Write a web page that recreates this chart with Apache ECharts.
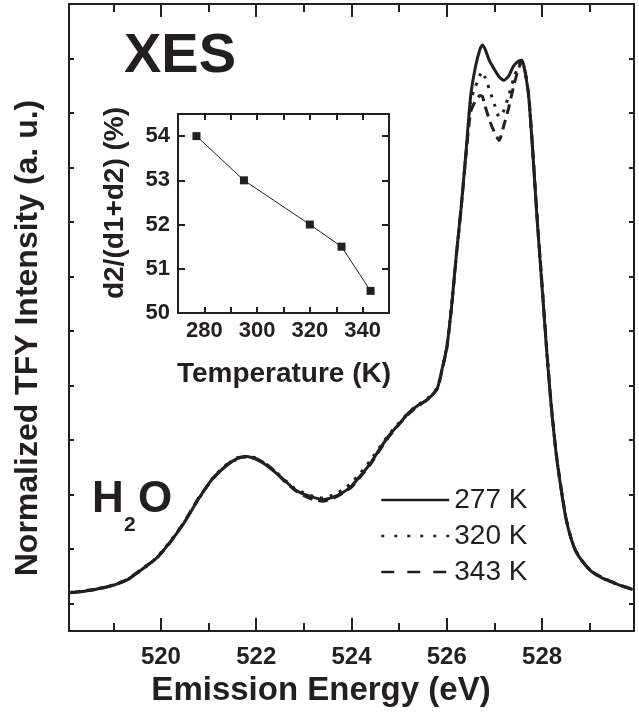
<!DOCTYPE html>
<html>
<head>
<meta charset="utf-8">
<script src="https://cdn.jsdelivr.net/npm/echarts@6/dist/echarts.min.js"></script>
<style>
  html, body { margin: 0; padding: 0; background: #fff; }
  #chart { width: 639px; height: 712px; }
</style>
</head>
<body>
<div id="chart"></div>
<script>
// emission energy grid (eV)
var energies = [518.1, 518.4, 518.7, 519.0, 519.3, 519.6, 519.9, 520.2, 520.5, 520.8,
  521.1, 521.4, 521.6, 521.8, 522.0, 522.2, 522.4, 522.6, 522.8, 523.0,
  523.2, 523.4, 523.6, 523.8, 524.0, 524.2, 524.4, 524.6, 524.8, 525.0,
  525.2, 525.4, 525.6, 525.8, 525.9, 526.0, 526.1, 526.2, 526.3, 526.4,
  526.5, 526.6, 526.7, 526.75, 526.8, 526.9, 527.0, 527.1, 527.2, 527.3,
  527.4, 527.5, 527.58, 527.65, 527.72, 527.8, 527.9, 528.0, 528.1, 528.2,
  528.3, 528.4, 528.5, 528.6, 528.7, 528.8, 529.0, 529.2, 529.4, 529.6, 529.9];

// normalized TFY intensity (a. u.)
var xes277 = [0.70, 0.73, 0.78, 0.84, 0.94, 1.13, 1.33, 1.64, 2.00, 2.44,
  2.81, 3.05, 3.16, 3.20, 3.15, 3.05, 2.91, 2.76, 2.60, 2.51,
  2.45, 2.41, 2.45, 2.53, 2.66, 2.86, 3.08, 3.35, 3.60, 3.80,
  4.00, 4.14, 4.25, 4.45, 4.80, 5.20, 5.95, 6.90, 7.75, 8.75,
  9.80, 10.34, 10.68, 10.75, 10.68, 10.45, 10.30, 10.16, 10.10, 10.18,
  10.36, 10.45, 10.47, 10.22, 9.80, 8.85, 7.50, 6.31, 5.10, 4.05,
  3.22, 2.60, 2.07, 1.72, 1.48, 1.33, 1.12, 1.00, 0.92, 0.85, 0.76];
var xes320 = [0.71, 0.73, 0.78, 0.85, 0.95, 1.12, 1.34, 1.65, 2.01, 2.43,
  2.82, 3.07, 3.15, 3.21, 3.17, 3.06, 2.93, 2.77, 2.62, 2.53,
  2.47, 2.44, 2.49, 2.58, 2.72, 2.91, 3.13, 3.38, 3.62, 3.82,
  4.01, 4.15, 4.27, 4.46, 4.80, 5.22, 5.96, 6.90, 7.76, 8.72,
  9.72, 9.98, 10.20, 10.26, 10.16, 9.92, 9.66, 9.43, 9.55, 9.82,
  10.12, 10.36, 10.46, 10.22, 9.80, 8.86, 7.52, 6.33, 5.12, 4.06,
  3.23, 2.61, 2.08, 1.72, 1.49, 1.33, 1.13, 1.00, 0.92, 0.85, 0.76];
var xes343 = [0.70, 0.74, 0.77, 0.84, 0.95, 1.14, 1.33, 1.63, 2.02, 2.45,
  2.80, 3.06, 3.18, 3.19, 3.16, 3.07, 2.92, 2.74, 2.59, 2.48,
  2.41, 2.38, 2.43, 2.52, 2.64, 2.84, 3.06, 3.33, 3.58, 3.79,
  3.98, 4.13, 4.25, 4.44, 4.78, 5.18, 5.93, 6.88, 7.74, 8.70,
  9.52, 9.72, 9.82, 9.80, 9.64, 9.36, 9.15, 9.00, 9.28, 9.60,
  9.98, 10.30, 10.45, 10.24, 9.82, 8.88, 7.55, 6.36, 5.14, 4.08,
  3.24, 2.62, 2.08, 1.73, 1.48, 1.34, 1.12, 1.01, 0.93, 0.85, 0.77];

// inset: d2/(d1+d2) vs temperature
var temps = [277, 295, 320, 332, 343];
var ratio = [54.0, 53.0, 52.0, 51.5, 50.5];

var ink = '#231f20';
var font = '"Liberation Sans", Arial, Helvetica, sans-serif';

function pairs(xs, ys) {
  var out = [];
  for (var i = 0; i < xs.length; i++) out.push([xs[i], ys[i]]);
  return out;
}

var chart = echarts.init(document.getElementById('chart'));

var line = { color: ink, width: 2 };

var option = {
  animation: false,
  textStyle: { fontFamily: font, color: ink },
  grid: [
    { left: 69, right: 5, top: 4, bottom: 81 },
    { left: 178, right: 250, top: 114, bottom: 399 }
  ],
  xAxis: [
    { type: 'value', gridIndex: 0, position: 'bottom', min: 518.07, max: 529.93, splitNumber: 5,
      axisLine: { onZero: false, lineStyle: line },
      axisTick: { inside: true, length: 13, lineStyle: line },
      minorTick: { show: true, splitNumber: 2, length: 8, lineStyle: line },
      axisLabel: { showMinLabel: false, showMaxLabel: false, margin: 14, fontSize: 24, fontWeight: 'bold', color: ink },
      splitLine: { show: false } },
    { type: 'value', gridIndex: 0, position: 'top', min: 518.07, max: 529.93, splitNumber: 5,
      axisLine: { onZero: false, lineStyle: line },
      axisTick: { inside: true, length: 13, lineStyle: line },
      minorTick: { show: true, splitNumber: 2, length: 8, lineStyle: line },
      axisLabel: { show: false }, splitLine: { show: false } },
    { type: 'value', gridIndex: 1, position: 'bottom', min: 270, max: 350, interval: 10,
      axisLine: { onZero: false, lineStyle: line },
      axisTick: { inside: true, length: 6, lineStyle: line },
      axisLabel: { margin: 7, fontSize: 22, fontWeight: 'bold', color: ink,
        formatter: function (v) { return (v % 20 === 0 && v > 270 && v < 350) ? v : ''; } },
      splitLine: { show: false } },
    { type: 'value', gridIndex: 1, position: 'top', min: 270, max: 350, interval: 10,
      axisLine: { onZero: false, lineStyle: line },
      axisTick: { inside: true, length: 6, lineStyle: line },
      axisLabel: { show: false }, splitLine: { show: false } }
  ],
  yAxis: [
    { type: 'value', gridIndex: 0, position: 'left', min: 0, max: 11.5, interval: 1,
      axisLine: { onZero: false, lineStyle: line },
      axisTick: { show: false, inside: true },
      minorTick: { show: true, splitNumber: 2, length: 5, lineStyle: line },
      axisLabel: { show: false }, splitLine: { show: false } },
    { type: 'value', gridIndex: 0, position: 'right', min: 0, max: 11.5, interval: 1,
      axisLine: { onZero: false, lineStyle: line },
      axisTick: { show: false, inside: true },
      minorTick: { show: true, splitNumber: 2, length: 5, lineStyle: line },
      axisLabel: { show: false }, splitLine: { show: false } },
    { type: 'value', gridIndex: 1, position: 'left', min: 50, max: 54.5, interval: 1,
      axisLine: { onZero: false, lineStyle: line },
      axisTick: { inside: true, length: 7, lineStyle: line },
      axisLabel: { margin: 8, fontSize: 22, fontWeight: 'bold', color: ink,
        formatter: function (v) { return v % 1 === 0 ? v : ''; } },
      splitLine: { show: false } },
    { type: 'value', gridIndex: 1, position: 'right', min: 50, max: 54.5, interval: 1,
      axisLine: { onZero: false, lineStyle: line },
      axisTick: { inside: true, length: 7, lineStyle: line },
      axisLabel: { show: false }, splitLine: { show: false } }
  ],
  legend: {
    orient: 'vertical', left: 375, top: 481, itemWidth: 68, itemHeight: 14, itemGap: 8,
    itemStyle: { opacity: 0 },
    textStyle: { fontSize: 28, color: ink, fontFamily: font },
    data: [
      { name: '277 K', lineStyle: { width: 2.5, type: 'solid' } },
      { name: '320 K', lineStyle: { width: 2.5, type: [3, 10] } },
      { name: '343 K', lineStyle: { width: 2.5, type: [13, 13] } }
    ]
  },
  graphic: [
    { type: 'text', x: 124, y: 57, style: { text: 'XES', fontSize: 56, fontWeight: 'bold', fontFamily: font, fill: ink, align: 'left', verticalAlign: 'middle' } },
    { type: 'text', x: 92, y: 500, style: { text: 'H', fontSize: 44, fontWeight: 'bold', fontFamily: font, fill: ink, align: 'left', verticalAlign: 'middle' } },
    { type: 'text', x: 124, y: 525, style: { text: '2', fontSize: 21, fontWeight: 'bold', fontFamily: font, fill: ink, align: 'left', verticalAlign: 'middle' } },
    { type: 'text', x: 138, y: 500, style: { text: 'O', fontSize: 44, fontWeight: 'bold', fontFamily: font, fill: ink, align: 'left', verticalAlign: 'middle' } },
    { type: 'text', x: 321, y: 691, style: { text: 'Emission Energy (eV)', fontSize: 33, fontWeight: 'bold', fontFamily: font, fill: ink, align: 'center', verticalAlign: 'middle' } },
    { type: 'text', x: 28, y: 338, rotation: Math.PI / 2, style: { text: 'Normalized TFY Intensity (a. u.)', fontSize: 32, fontWeight: 'bold', fontFamily: font, fill: ink, align: 'center', verticalAlign: 'middle' } },
    { type: 'text', x: 284, y: 374, style: { text: 'Temperature (K)', fontSize: 28, fontWeight: 'bold', fontFamily: font, fill: ink, align: 'center', verticalAlign: 'middle' } },
    { type: 'text', x: 115, y: 203, rotation: Math.PI / 2, style: { text: 'd2/(d1+d2) (%)', fontSize: 28, fontWeight: 'bold', fontFamily: font, fill: ink, align: 'center', verticalAlign: 'middle' } }
  ],
  series: [
    { name: '277 K', type: 'line', xAxisIndex: 0, yAxisIndex: 0, data: pairs(energies, xes277),
      showSymbol: false, symbol: 'none', smooth: 0.2, lineStyle: { color: ink, width: 3, type: 'solid' } },
    { name: '320 K', type: 'line', xAxisIndex: 0, yAxisIndex: 0, data: pairs(energies, xes320),
      showSymbol: false, symbol: 'none', smooth: 0.2, lineStyle: { color: ink, width: 3, type: [3, 7] } },
    { name: '343 K', type: 'line', xAxisIndex: 0, yAxisIndex: 0, data: pairs(energies, xes343),
      showSymbol: false, symbol: 'none', smooth: 0.2, lineStyle: { color: ink, width: 3, type: [10, 6] } },
    { name: 'ratio', type: 'line', xAxisIndex: 2, yAxisIndex: 2, data: pairs(temps, ratio),
      symbol: 'rect', symbolSize: 8, itemStyle: { color: ink }, lineStyle: { color: ink, width: 1 } }
  ]
};

chart.setOption(option);
</script>
</body>
</html>
